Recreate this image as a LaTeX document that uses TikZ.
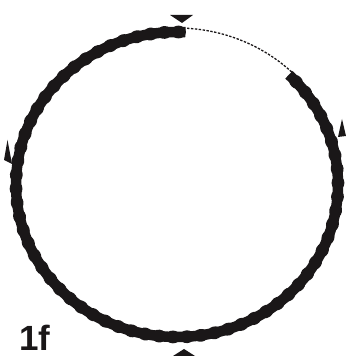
\documentclass[tikz,border=0pt]{standalone}
\usepackage{fontspec}
\setmainfont{Liberation Sans}
\usetikzlibrary{calc,decorations.markings}
\definecolor{ink}{HTML}{1A1718}
\begin{document}
\begin{tikzpicture}[x=1pt,y=1pt,
  ring/.style={line width=10.5pt, draw=ink, line cap=butt},
  bumps/.style={postaction={decorate},
    decoration={markings, mark=between positions 0.008 and 0.992 step 14pt with {\fill[ink] (0,0) ellipse (7.5pt and 6.4pt);}}},
  gapline/.style={draw=ink, line width=1.3pt, dash pattern=on 2.4pt off 1.5pt},
  marker/.style={fill=ink}]
\useasboundingbox (0,0) rectangle (345,358);
\coordinate (c) at (177,173.5);
% ring
\draw[ring, bumps] ($(c)+(87:161 and 152.5)$) arc[start angle=87, end angle=406, x radius=161, y radius=152.5];
% dotted gap
\draw[gapline] ($(c)+(46:165 and 156.5)$) arc[start angle=46, end angle=87, x radius=165, y radius=156.5];
% markers
\fill[marker] (170,343) -- (193,343) -- (182,335) -- cycle;
\fill[marker] (184,9) -- (195,2) -- (173,2) -- cycle;
\fill[marker] (7.5,218) -- (4,198) -- (12,194) -- cycle;
\fill[marker] (342,239) -- (338,221) -- (346,222) -- cycle;
% label
\node[anchor=base west, inner sep=0, font=\fontsize{35}{35}\selectfont\bfseries, text=ink] (lbl) at (19,7) {1f};
\end{tikzpicture}
\end{document}
